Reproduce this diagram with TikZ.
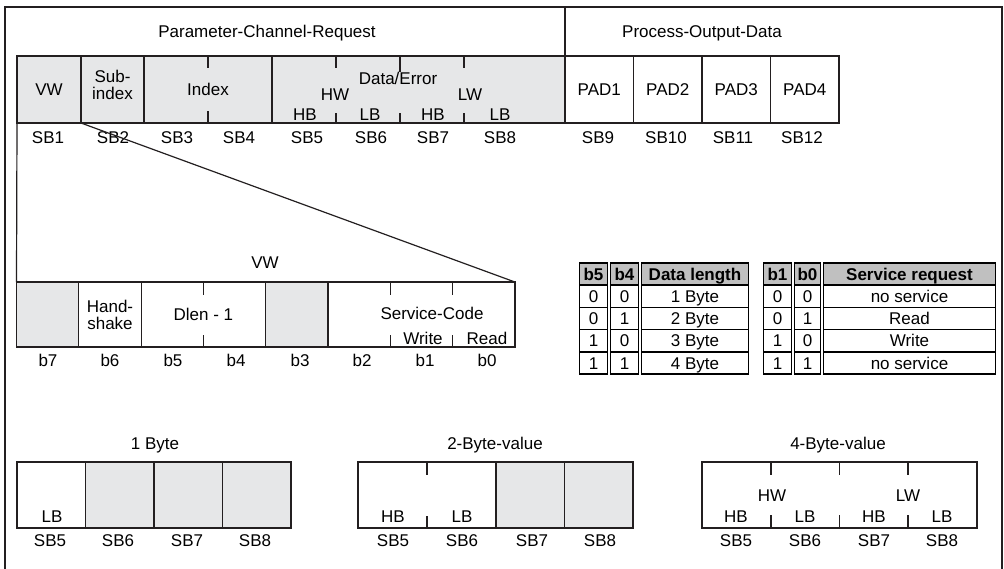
\documentclass[tikz,border=0pt]{standalone}
\usepackage{fontspec}
\setmainfont{Liberation Sans}
\usetikzlibrary{positioning}

\definecolor{ink}{HTML}{231F20}
\definecolor{cellgray}{HTML}{E6E7E8}
\definecolor{headgray}{HTML}{C0C0C0}

\begin{document}
\begin{tikzpicture}
    [
      x=1pt, y=-1pt,
      every node/.style={font=\fontsize{17}{17}\selectfont, inner sep=0pt, outer sep=0pt},
      txt/.style={text height=12.2pt, text depth=0pt},
      field/.style={draw=ink, line width=1.2pt, minimum height=67pt},
      shaded/.style={field, fill=cellgray},
      bitfield/.style={field, minimum height=65pt, minimum width=62.3pt},
      bitshaded/.style={bitfield, fill=cellgray},
      bytefield/.style={field, minimum height=66pt, minimum width=68.5pt},
      byteshaded/.style={bytefield, fill=cellgray},
      tick/.style={draw=ink, line width=1.2pt},
      frame/.style={draw=ink, line width=2pt},
      tcell/.style={txt, draw=black, line width=1.5pt, minimum height=22.2pt},
      thead/.style={tcell, fill=headgray, font=\fontsize{17}{17}\selectfont\bfseries},
    ]

    \useasboundingbox (0,0) rectangle (1004,568);

    \coordinate (frame-tl) at (5,7);
    \coordinate (frame-tr) at (1002,7);
    \draw [frame] (5,570) -- (frame-tl) -- (frame-tr) -- (1002,570);

    % request / output data telegram
    \node (pcr-title) [txt] at (267,31) {Parameter-Channel-Request};
    \node (pod-title) [txt] at (702,31) {Process-Output-Data};

    \node (vw) [shaded, minimum width=64pt] at (49,89.5) {VW};
    \node (subidx) [shaded, minimum width=63pt, right=0pt of vw] {};
    \node [align=center] at (112.5,85) {Sub-\\index};
    \node (index) [shaded, minimum width=128pt, right=0pt of subidx] {Index};
    \node (dataerr) [shaded, minimum width=293pt, right=0pt of index] {};
    \node (pad1) [field, minimum width=68.5pt, right=0pt of dataerr] {PAD1};
    \node (pad2) [field, minimum width=68.5pt, right=0pt of pad1] {PAD2};
    \node (pad3) [field, minimum width=68.5pt, right=0pt of pad2] {PAD3};
    \node (pad4) [field, minimum width=68.5pt, right=0pt of pad3] {PAD4};

    \draw [tick] (dataerr.north east) -- (dataerr.north east |- frame-tl);
    \draw [tick] (index.north) -- ++(0,12) (index.south) -- ++(0,-12);
    \draw [tick] ([xshift=64pt]dataerr.north west) -- ++(0,12)
                 ([xshift=64pt]dataerr.south west) -- ++(0,-10);
    \draw [tick] ([xshift=128pt]dataerr.north west) -- ++(0,16)
                 ([xshift=128pt]dataerr.south west) -- ++(0,-10);
    \draw [tick] ([xshift=192pt]dataerr.north west) -- ++(0,12)
                 ([xshift=192pt]dataerr.south west) -- ++(0,-10);

    \node (de-hw) [txt] at (335,94) {HW};
    \node (de-title) [txt] at (398,78) {Data/Error};
    \node (de-lw) [txt] at (470,94) {LW};
    \node (de-hb1) [txt] at (305,114) {HB};
    \node (de-lb1) [txt] at (370,114) {LB};
    \node (de-hb2) [txt] at (433,114) {HB};
    \node (de-lb2) [txt] at (500,114) {LB};

    \node [txt] at (48,137) {SB1};
    \node [txt] at (113,137) {SB2};
    \node [txt] at (177,137) {SB3};
    \node [txt] at (239,137) {SB4};
    \node [txt] at (307,137) {SB5};
    \node [txt] at (371,137) {SB6};
    \node [txt] at (433,137) {SB7};
    \node [txt] at (500,137) {SB8};
    \node [txt] at (598,137) {SB9};
    \node [txt] at (666,137) {SB10};
    \node [txt] at (733,137) {SB11};
    \node [txt] at (802,137) {SB12};

    % bits of VW
    \node (vw-title) [txt] at (265,262) {VW};
    \node (b7) [bitshaded] at (47.65,314.5) {};
    \node (b6) [bitfield, right=0pt of b7] {};
    \node [align=center] at (110,315) {Hand-\\shake};
    \node (dlen) [bitfield, minimum width=124.6pt, right=0pt of b6] {Dlen - 1};
    \node (b3) [bitshaded, right=0pt of dlen] {};
    \node (svc) [bitfield, minimum width=186.9pt, right=0pt of b3] {};

    \draw [tick] (dlen.north) -- ++(0,13) (dlen.south) -- ++(0,-12);
    \draw [tick] ([xshift=62.3pt]svc.north west) -- ++(0,13)
                 ([xshift=62.3pt]svc.south west) -- ++(0,-12);
    \draw [tick] ([xshift=124.6pt]svc.north west) -- ++(0,13)
                 ([xshift=124.6pt]svc.south west) -- ++(0,-12);

    \node (svc-title) [txt] at (432,313) {Service-Code};
    \node (svc-write) [txt] at (423,338) {Write};
    \node (svc-read) [txt] at (487,338) {Read};

    \node [txt] at (48,360) {b7};
    \node [txt] at (110,360) {b6};
    \node [txt] at (173,360) {b5};
    \node [txt] at (236,360) {b4};
    \node [txt] at (300,360) {b3};
    \node [txt] at (362,360) {b2};
    \node [txt] at (425,360) {b1};
    \node [txt] at (487,360) {b0};

    \draw [tick] (vw.south west) -- (b7.north west);
    \draw [tick] (vw.south east) -- (svc.north east);

    % coding tables
    \node (dl-h1) [thead, minimum width=28pt] at (593.5,274.1) {b5};
    \node (dl-h2) [thead, minimum width=28pt] at (624.5,274.1) {b4};
    \node (dl-h3) [thead, minimum width=107pt] at (695,274.1) {Data length};
    \foreach \a/\b/\len [count=\r] in {0/0/1 Byte, 0/1/2 Byte, 1/0/3 Byte, 1/1/4 Byte}
    {
      \node (dl-\r-a) [tcell, minimum width=28pt] at (593.5,274.1+22.2*\r) {\a};
      \node (dl-\r-b) [tcell, minimum width=28pt] at (624.5,274.1+22.2*\r) {\b};
      \node (dl-\r-c) [tcell, minimum width=107pt] at (695,274.1+22.2*\r) {\len};
    }

    \node (sr-h1) [thead, minimum width=28pt] at (777.5,274.1) {b1};
    \node (sr-h2) [thead, minimum width=26pt] at (807.5,274.1) {b0};
    \node (sr-h3) [thead, minimum width=172pt] at (909.5,274.1) {Service request};
    \foreach \a/\b/\req [count=\r] in {0/0/no service, 0/1/Read, 1/0/Write, 1/1/no service}
    {
      \node (sr-\r-a) [tcell, minimum width=28pt] at (777.5,274.1+22.2*\r) {\a};
      \node (sr-\r-b) [tcell, minimum width=26pt] at (807.5,274.1+22.2*\r) {\b};
      \node (sr-\r-c) [tcell, minimum width=172pt] at (909.5,274.1+22.2*\r) {\req};
    }

    % 1 Byte
    \node (one-title) [txt] at (155,443) {1 Byte};
    \node (one-sb5) [bytefield] at (51.25,495) {};
    \node (one-sb6) [byteshaded, right=0pt of one-sb5] {};
    \node (one-sb7) [byteshaded, right=0pt of one-sb6] {};
    \node (one-sb8) [byteshaded, right=0pt of one-sb7] {};
    \node [txt] at (52,516) {LB};
    \node [txt] at (50,540) {SB5};
    \node [txt] at (118,540) {SB6};
    \node [txt] at (187,540) {SB7};
    \node [txt] at (255,540) {SB8};

    % 2-Byte-value
    \node (two-title) [txt] at (495,443) {2-Byte-value};
    \node (two-word) [bytefield, minimum width=138pt] at (427,495) {};
    \node (two-sb7) [byteshaded, right=0pt of two-word] {};
    \node (two-sb8) [byteshaded, right=0pt of two-sb7] {};
    \draw [tick] (two-word.north) -- ++(0,13) (two-word.south) -- ++(0,-12);
    \node [txt] at (393,516) {HB};
    \node [txt] at (462,516) {LB};
    \node [txt] at (393,540) {SB5};
    \node [txt] at (462,540) {SB6};
    \node [txt] at (532,540) {SB7};
    \node [txt] at (600,540) {SB8};

    % 4-Byte-value
    \node (four-title) [txt] at (838,443) {4-Byte-value};
    \node (four-val) [bytefield, minimum width=275pt] at (839.5,495) {};
    \draw [tick] ([xshift=69pt]four-val.north west) -- ++(0,13)
                 ([xshift=69pt]four-val.south west) -- ++(0,-13);
    \draw [tick] (four-val.north) -- ++(0,13) (four-val.south) -- ++(0,-13);
    \draw [tick] ([xshift=206pt]four-val.north west) -- ++(0,13)
                 ([xshift=206pt]four-val.south west) -- ++(0,-13);
    \node [txt] at (772,495) {HW};
    \node [txt] at (908,495) {LW};
    \node [txt] at (736,516) {HB};
    \node [txt] at (805,516) {LB};
    \node [txt] at (874,516) {HB};
    \node [txt] at (942,516) {LB};
    \node [txt] at (736,540) {SB5};
    \node [txt] at (805,540) {SB6};
    \node [txt] at (874,540) {SB7};
    \node [txt] at (942,540) {SB8};

\end{tikzpicture}
\end{document}
